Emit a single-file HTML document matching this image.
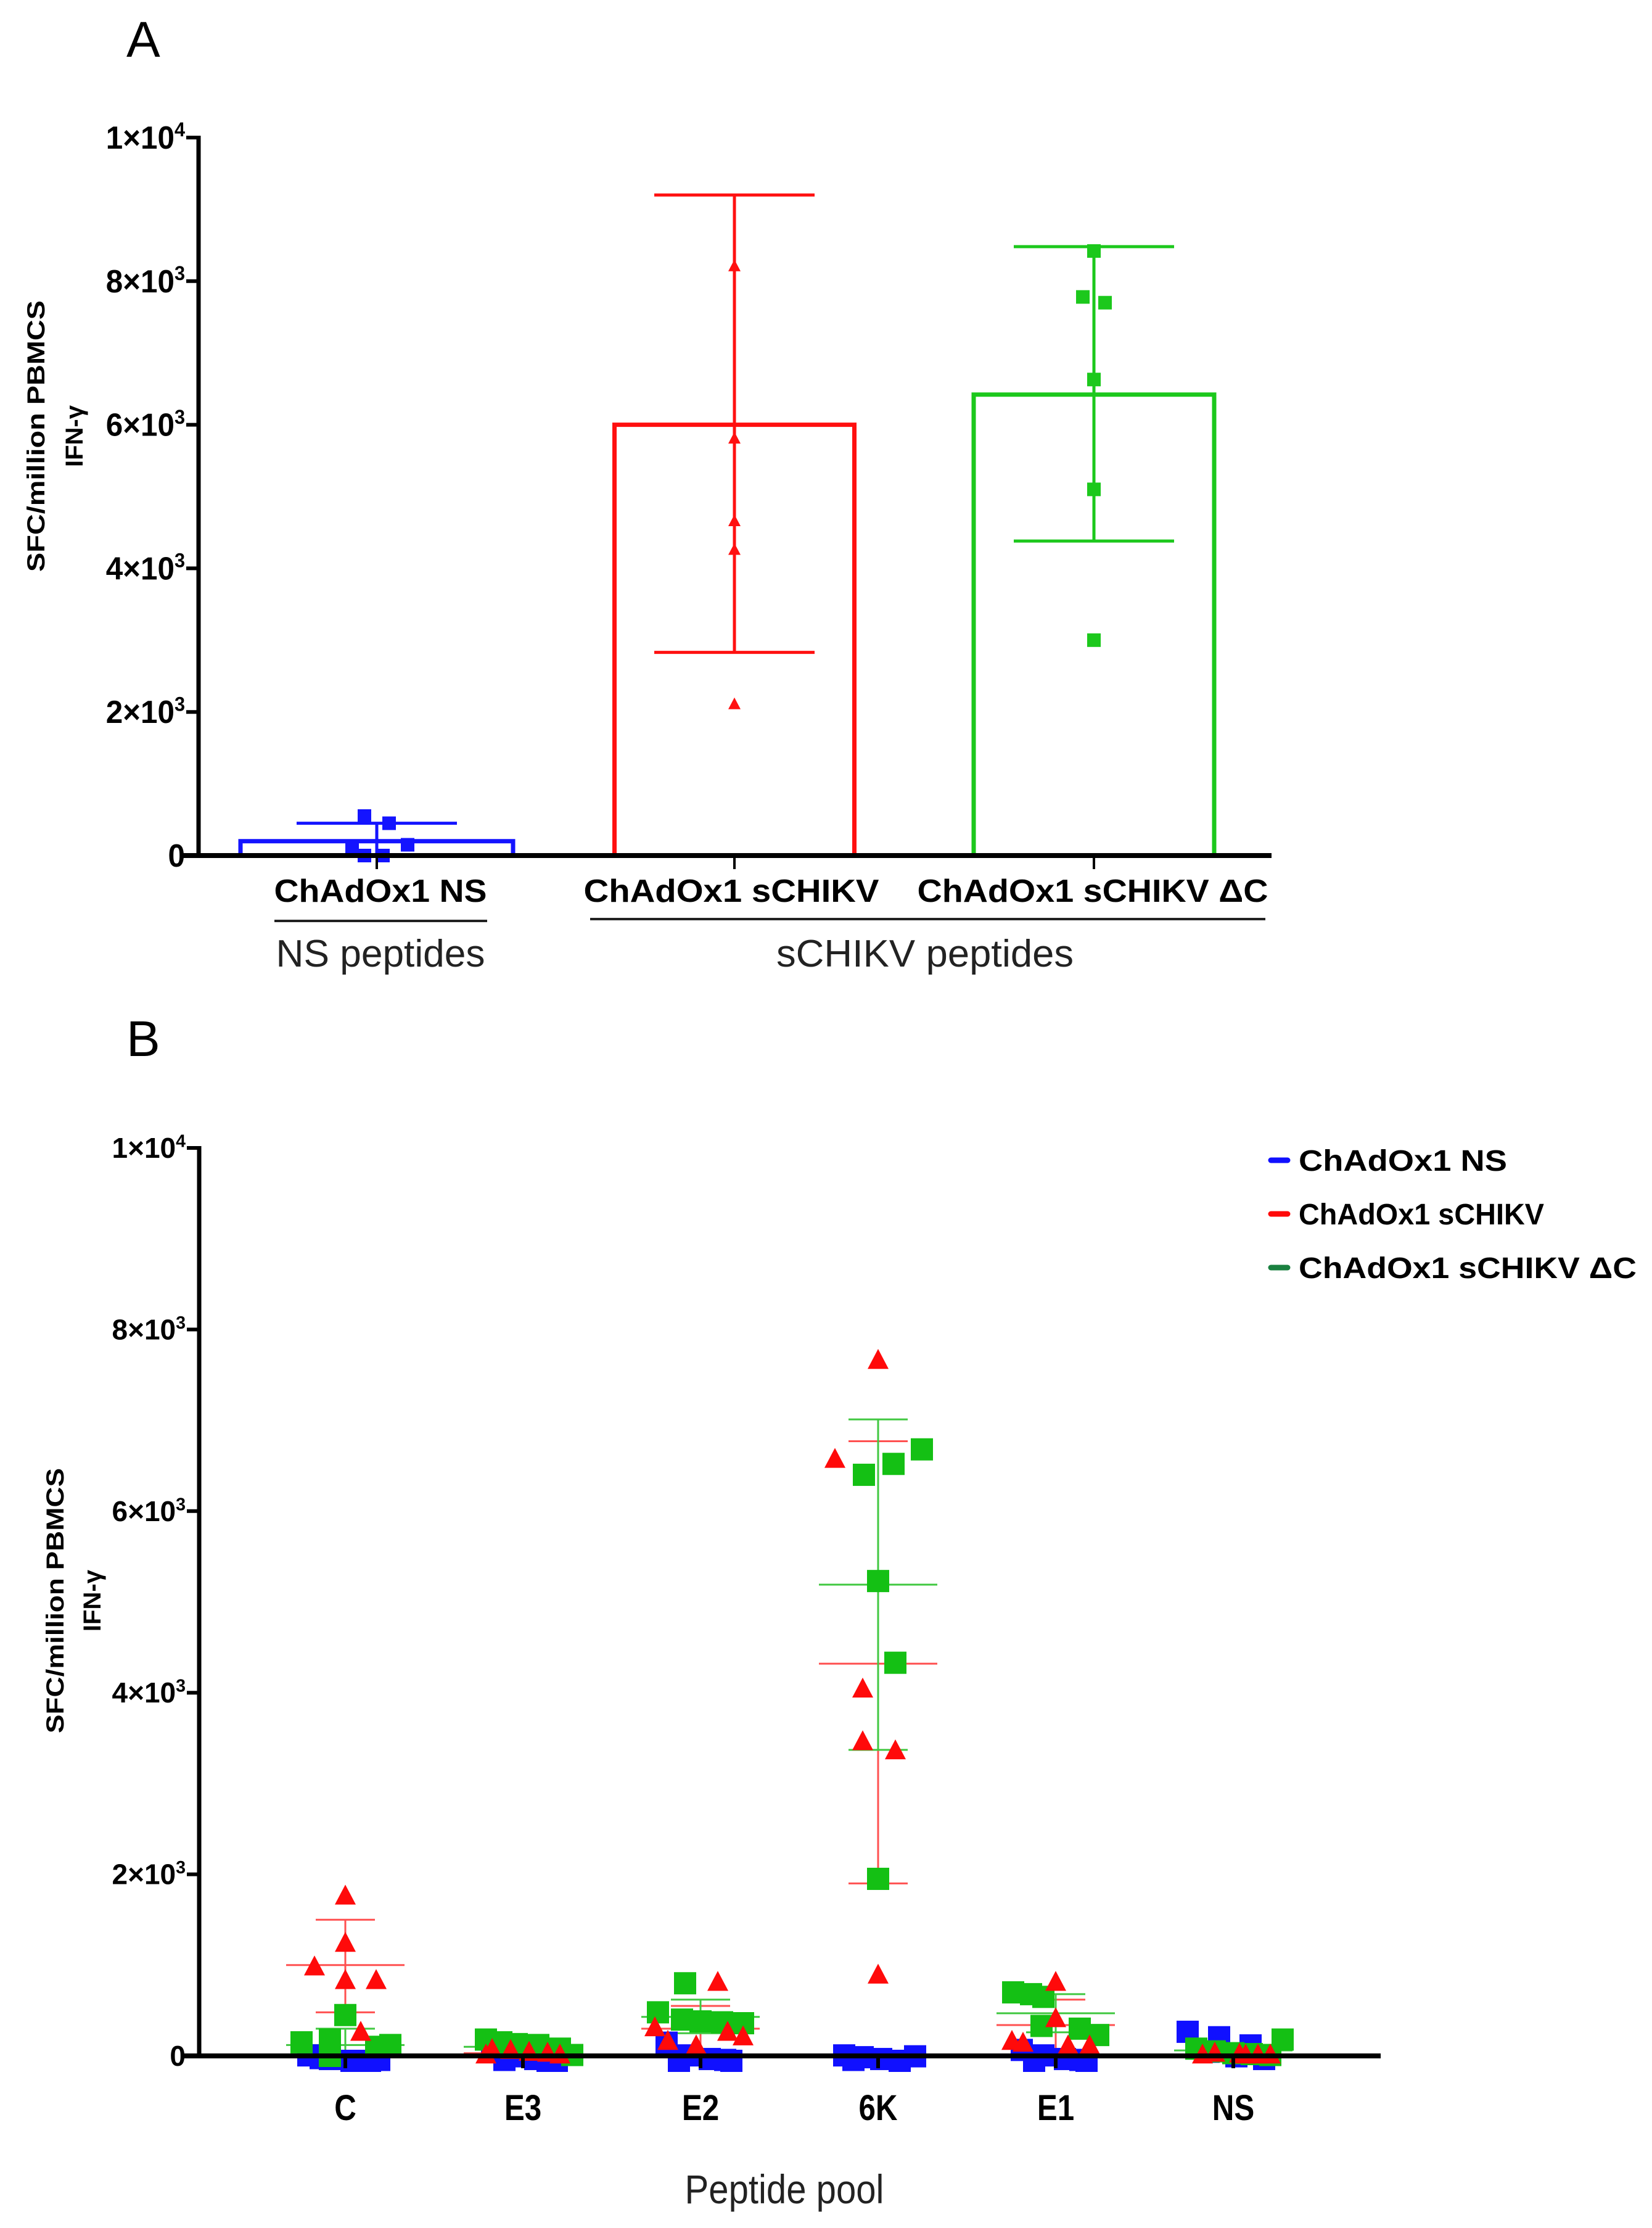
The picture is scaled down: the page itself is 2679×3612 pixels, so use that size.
<!DOCTYPE html>
<html><head><meta charset="utf-8">
<style>
html,body{margin:0;padding:0;background:#fff;}
svg{display:block;}
.nar{font-family:"Liberation Sans Narrow","Liberation Sans",sans-serif;}
.sans{font-family:"Liberation Sans",sans-serif;}
</style></head>
<body>
<svg id="fig" width="2679" height="3612" viewBox="0 0 2679 3612" xmlns="http://www.w3.org/2000/svg">
<text x="205" y="92" class="sans" font-size="82">A</text>
<text x="205" y="1712" class="sans" font-size="82">B</text>
<g id="pa"></g>
<g id="pb"></g>
</svg>
<script>
// ---------- Panel A data ----------
const aGroups = ["ChAdOx1 NS","ChAdOx1 sCHIKV","ChAdOx1 sCHIKV ΔC"];
const aMeans = [200, 6000, 6420];
const aSDHigh = [450, 9200, 8480];
const aSDLow = [0, 2830, 4380];
const aPtsNS = [550, 450, 150, 80, 0, 0];
const aPtsS = [8200, 5800, 4650, 4250, 2100];
const aPtsD = [8420, 7780, 7700, 6630, 5100, 3000];
const aTicks = [0, 2000, 4000, 6000, 8000, 10000];
const aTickLabels = ["0","2×10|3","4×10|3","6×10|3","8×10|3","1×10|4"];

// ---------- Panel B data ----------
const bCats = ["C","E3","E2","6K","E1","NS"];
const bBlue = [[60,20,0,0,30,10],[100,50,20,0,10,0],[200,60,20,0,0,10],[60,40,20,0,50,10],[120,60,20,0,0,10],[320,260,170,100,50,20]];
const bRed = [[1750,1230,970,820,820,250],[60,50,30,20,0,0],[800,300,250,200,150,100],[7650,6560,4030,3450,3350,880],[800,400,150,130,100,100],[20,10,0,0,0,0]];
const bGreen = [[450,180,150,120,100,0],[180,150,130,120,80,10],[800,480,400,380,370,360],[6680,6520,6400,5230,4330,1950],[700,680,650,330,300,230],[180,80,50,30,20,10]];
const bRedMean = [1000, 30, 300, 4320, 340, 10];
const bRedHi = [1500, 60, 550, 6770, 620, 30];
const bRedLo = [480, 0, 50, 1900, 60, 0];
const bGreenMean = [120, 100, 430, 5190, 470, 60];
const bGreenHi = [300, 170, 620, 7010, 680, 120];
const bGreenLo = [0, 30, 250, 3370, 260, 0];
const bTicks = [0, 2000, 4000, 6000, 8000, 10000];
const bTickLabels = ["0","2×10|3","4×10|3","6×10|3","8×10|3","1×10|4"];

// jitter (visual horizontal spread, px)
const jBlue = [[-60,-25,10,40,-40,55],[-50,-15,20,55,-30,40],[-55,-20,15,50,-35,40],[-55,-25,5,35,60,-40],[-55,-20,15,50,-35,40],[-74,-23,28,-40,5,50]];
const jRed = [[0,0,-50,0,50,25],[-50,-20,10,40,60,-60],[28,-74,44,69,-53,-7],[0,-70,-25,-25,28,0],[0,0,-71,-53,55,20],[-30,10,40,-50,20,60]];
const jGreen = [[0,-25,-71,73,50,-25],[-60,-35,-10,25,60,80],[-25,-69,-30,0,35,69],[71,25,-23,0,28,0],[-69,-40,-20,-23,39,69],[80,-60,-30,0,30,60]];

const NS="http://www.w3.org/2000/svg";
function mk(parent, tag, attrs, text){
  const e=document.createElementNS(NS,tag);
  for(const k in attrs) e.setAttribute(k,attrs[k]);
  if(text!==undefined) e.textContent=text;
  parent.appendChild(e); return e;
}
function tickLabel(g, x, y, lab, size, sx){
  const t=mk(g,'text',{x:0,y:0,transform:`translate(${x},${y}) scale(${sx},1)`,'text-anchor':'end','font-size':size,'font-weight':'bold','class':'sans'});
  
  
  const p=lab.split('|');
  mk(t,'tspan',{},p[0]);
  if(p[1]) mk(t,'tspan',{'font-size':size*0.62,dy:-size*0.38},p[1]);
}
function tri(g,cx,cy,s,fill){
  const h=s*0.95;
  return mk(g,'polygon',{points:`${cx},${cy-h*0.62} ${cx-s/2},${cy+h*0.38} ${cx+s/2},${cy+h*0.38}`,fill:fill});
}

// ================= Panel A =================
(function(){
  const g=document.getElementById('pa');
  const y0=1387, y1=223, xL=322, xR=2062;
  const ya=v=>y0-(v/10000)*(y0-y1);
  const cx=[611,1191,1774];
  const bw=[442,389,390];
  const cols=['#1414ff','#ff1010','#1cc81c'];
  for(let i=0;i<3;i++){
    const r=mk(g,'rect',{x:cx[i]-bw[i]/2,y:ya(aMeans[i]),width:bw[i],height:y0-ya(aMeans[i]),fill:'none',stroke:cols[i],'stroke-width':7});
    
    
  }
  for(let i=0;i<3;i++){
    const eg=mk(g,'g',{stroke:cols[i],'stroke-width':5});
    
    
    mk(eg,'line',{x1:cx[i],x2:cx[i],y1:ya(aSDHigh[i]),y2:ya(aSDLow[i])});
    mk(eg,'line',{x1:cx[i]-130,x2:cx[i]+130,y1:ya(aSDHigh[i]),y2:ya(aSDHigh[i])});
    mk(eg,'line',{x1:cx[i]-130,x2:cx[i]+130,y1:ya(aSDLow[i]),y2:ya(aSDLow[i])});
  }
  const offNS=[-20,20,50,-40,-20,10];
  aPtsNS.forEach((v,j)=>{const r=mk(g,'rect',{x:cx[0]+offNS[j]-11,y:ya(v)-11,width:22,height:22,fill:cols[0]});
    });
  aPtsS.forEach((v,j)=>{const t=tri(g,cx[1],ya(v),20,cols[1]);
    });
  const offD=[0,-18,18,0,0,0];
  aPtsD.forEach((v,j)=>{const r=mk(g,'rect',{x:cx[2]+offD[j]-11,y:ya(v)-11,width:22,height:22,fill:cols[2]});
    });
  const ax=mk(g,'line',{x1:xL,x2:xL,y1:y1-3,y2:y0+4,stroke:'#000','stroke-width':7});
  
  const xa=mk(g,'line',{x1:xL-25,x2:xR,y1:y0,y2:y0,stroke:'#000','stroke-width':8});
  
  aTicks.forEach((v,i)=>{
    mk(g,'line',{x1:xL-20,x2:xL,y1:ya(v),y2:ya(v),stroke:'#000','stroke-width':6});
    tickLabel(g,xL-22,ya(v)+18,aTickLabels[i],52,0.95);
  });
  cx.forEach(c=>mk(g,'line',{x1:c,x2:c,y1:y0,y2:y0+22,stroke:'#000','stroke-width':4}));
  const labW=[345,479,569];
  const labX=[617,1186,1772];
  aGroups.forEach((s,i)=>{
    const t=mk(g,'text',{x:labX[i],y:1462,'text-anchor':'middle','font-size':52,'font-weight':'bold','class':'sans',textLength:labW[i],lengthAdjust:'spacingAndGlyphs'},s);
    
  });
  mk(g,'line',{x1:445,x2:790,y1:1493,y2:1493,stroke:'#222','stroke-width':4});
  mk(g,'line',{x1:957,x2:2052,y1:1490,y2:1490,stroke:'#222','stroke-width':4});
  let t=mk(g,'text',{x:617,y:1567,'text-anchor':'middle','font-size':62,'class':'sans',fill:'#222',textLength:339,lengthAdjust:'spacingAndGlyphs'},'NS peptides');
  
  t=mk(g,'text',{x:1500,y:1567,'text-anchor':'middle','font-size':62,'class':'sans',fill:'#222',textLength:482,lengthAdjust:'spacingAndGlyphs'},'sCHIKV peptides');
  
  t=mk(g,'text',{x:0,y:0,transform:'translate(72,707) rotate(-90)','text-anchor':'middle','font-size':40,'font-weight':'bold','class':'sans',textLength:440,lengthAdjust:'spacingAndGlyphs'},'SFC/million PBMCS');
  
  t=mk(g,'text',{x:0,y:0,transform:'translate(134,707) rotate(-90)','text-anchor':'middle','font-size':40,'font-weight':'bold','class':'sans'},'IFN-γ');
  
})();

// ================= Panel B =================
(function(){
  const g=document.getElementById('pb');
  const y0=3333, y1=1861, xL=323, xR=2239;
  const yb=v=>y0-(v/10000)*(y0-y1);
  const xb=i=>560+i*288;
  const blue='#1010ff', red='#ff0a0a', green='#14c014';
  const S=36;
  bCats.forEach((c,i)=>{
    [[bRedMean,bRedHi,bRedLo,'#ff5050'],[bGreenMean,bGreenHi,bGreenLo,'#40c840']].forEach(([m,h,l,col])=>{
      const eg=mk(g,'g',{stroke:col,'stroke-width':3});
      
      
      mk(eg,'line',{x1:xb(i),x2:xb(i),y1:yb(h[i]),y2:yb(l[i])});
      mk(eg,'line',{x1:xb(i)-48,x2:xb(i)+48,y1:yb(h[i]),y2:yb(h[i])});
      mk(eg,'line',{x1:xb(i)-48,x2:xb(i)+48,y1:yb(l[i]),y2:yb(l[i])});
      mk(eg,'line',{x1:xb(i)-96,x2:xb(i)+96,y1:yb(m[i]),y2:yb(m[i])});
    });
  });
  bCats.forEach((c,i)=>{
    bBlue[i].forEach((v,j)=>{const r=mk(g,'rect',{x:xb(i)+jBlue[i][j]-S/2,y:yb(v)-S/2+8,width:S,height:S,fill:blue});
      });
    bGreen[i].forEach((v,j)=>{const r=mk(g,'rect',{x:xb(i)+jGreen[i][j]-S/2,y:yb(v)-S/2,width:S,height:S,fill:green});
      });
    bRed[i].forEach((v,j)=>{const t=tri(g,xb(i)+jRed[i][j],yb(v),34,red);
      });
  });
  const ax=mk(g,'line',{x1:xL,x2:xL,y1:y1-3,y2:y0+4,stroke:'#000','stroke-width':7});
  
  const xa=mk(g,'line',{x1:xL-25,x2:xR,y1:y0,y2:y0,stroke:'#000','stroke-width':8});
  
  bTicks.forEach((v,i)=>{
    mk(g,'line',{x1:xL-20,x2:xL,y1:yb(v),y2:yb(v),stroke:'#000','stroke-width':6});
    tickLabel(g,xL-22,yb(v)+16,bTickLabels[i],46,1);
  });
  bCats.forEach((c,i)=>{
    mk(g,'line',{x1:xb(i),x2:xb(i),y1:y0,y2:y0+20,stroke:'#000','stroke-width':6});
    const t=mk(g,'text',{x:0,y:0,transform:`translate(${xb(i)},3437) scale(0.85,1)`,'text-anchor':'middle','font-size':58,'font-weight':'bold','class':'sans'},c);
    
  });
  let t=mk(g,'text',{x:0,y:0,transform:'translate(1272,3572) scale(0.88,1)','text-anchor':'middle','font-size':66,'class':'sans',fill:'#222'},'Peptide pool');
  
  t=mk(g,'text',{x:0,y:0,transform:'translate(103,2595) rotate(-90)','text-anchor':'middle','font-size':40,'font-weight':'bold','class':'sans',textLength:430,lengthAdjust:'spacingAndGlyphs'},'SFC/million PBMCS');
  
  t=mk(g,'text',{x:0,y:0,transform:'translate(163,2595) rotate(-90)','text-anchor':'middle','font-size':40,'font-weight':'bold','class':'sans'},'IFN-γ');
  
  const legNames=["ChAdOx1 NS","ChAdOx1 sCHIKV","ChAdOx1 sCHIKV ΔC"];
  const legCols=[blue,red,'#1a8040'];
  const legY=[1881,1968,2055];
  const legW=[338,398,548];
  legNames.forEach((s,i)=>{
    const lg=mk(g,'g',{});
    
    
    mk(lg,'line',{x1:2061,x2:2088,y1:legY[i],y2:legY[i],stroke:legCols[i],'stroke-width':9,'stroke-linecap':'round'});
    mk(lg,'text',{x:2106,y:legY[i]+17,'font-size':48,'font-weight':'bold','class':'sans',textLength:legW[i],lengthAdjust:'spacingAndGlyphs'},s);
  });
})();
</script>
</body></html>
